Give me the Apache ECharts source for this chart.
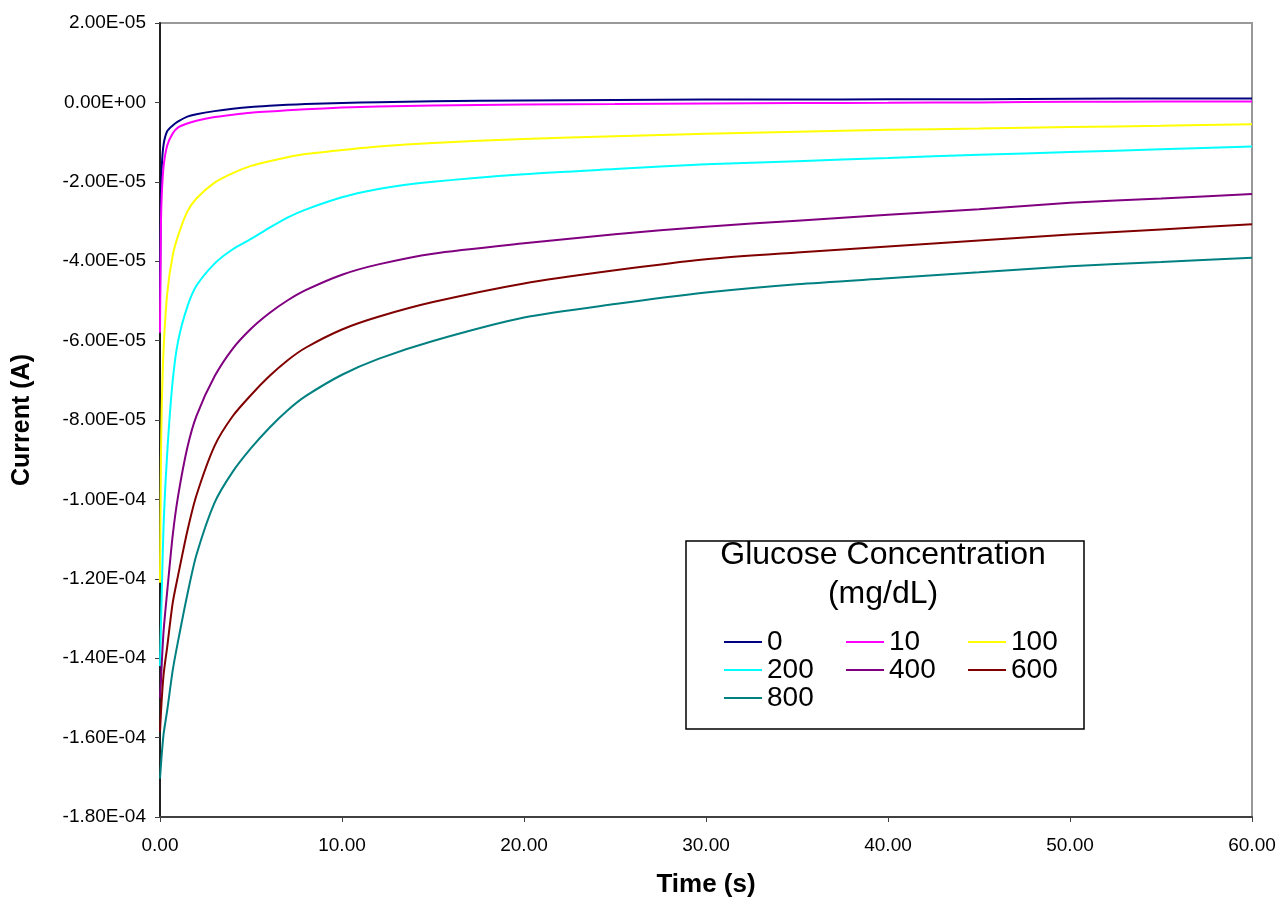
<!DOCTYPE html>
<html>
<head>
<meta charset="utf-8">
<script src="https://cdn.jsdelivr.net/npm/echarts@6/dist/echarts.min.js"></script>
<style>
  html, body { margin: 0; padding: 0; background: #fff; }
  #chart { width: 1279px; height: 903px; }
</style>
</head>
<body>
<div id="chart"></div>
<script>
// time points (s)
let timeList = [0, 0.05, 0.1, 0.2, 0.4, 0.7, 1, 1.5, 2, 3, 4, 5, 6, 7, 8, 10, 12, 15, 20, 25, 30, 35, 40, 45, 50, 55, 60]
// current readings, in microamps
let c0   = [-50, -25, -16, -10.5, -7.2, -5.8, -4.8, -3.6, -3.0, -2.2, -1.6, -1.15, -0.85, -0.6, -0.42, -0.15, 0.05, 0.3, 0.5, 0.6, 0.7, 0.7, 0.8, 0.8, 0.9, 1.0, 1.0]
let c10  = [-58, -31, -23, -16, -10.8, -7.8, -6.3, -5.3, -4.6, -3.7, -3.1, -2.6, -2.3, -2.0, -1.75, -1.3, -1.05, -0.8, -0.5, -0.4, -0.25, -0.15, -0.1, 0.0, 0.15, 0.2, 0.2]
let c100 = [-121, -90, -76, -62, -48, -38.5, -33.5, -27.5, -24.2, -20.2, -17.8, -16.0, -14.8, -13.8, -13.0, -12.0, -11.1, -10.2, -9.2, -8.5, -7.9, -7.4, -6.9, -6.6, -6.2, -5.9, -5.5]
let c200 = [-142, -132, -123, -106, -88, -70, -60, -51.5, -46.2, -40.6, -37.0, -34.4, -31.6, -29.0, -27.0, -23.9, -21.8, -20.0, -18.1, -16.8, -15.6, -14.8, -14.0, -13.2, -12.5, -11.8, -11.1]
let c400 = [-150, -146, -141, -133, -123, -109, -99, -87, -79, -69, -62, -57, -53.1, -49.9, -47.3, -43.4, -40.8, -38.1, -35.5, -33.2, -31.3, -29.8, -28.3, -26.9, -25.3, -24.2, -23.1]
let c600 = [-158.5, -154, -150, -144, -137, -126, -119, -108, -99, -86.5, -79, -73.7, -69, -65, -61.8, -57.2, -54.0, -50.3, -45.6, -42.3, -39.5, -37.8, -36.3, -34.8, -33.3, -32.0, -30.7]
let c800 = [-170.3, -167, -164, -159, -153, -143, -135.5, -124, -114, -100.8, -93, -87.1, -82, -77.6, -74, -68.6, -64.6, -60.1, -54.2, -50.8, -47.9, -45.8, -44.3, -42.8, -41.3, -40.2, -39.1]

let seriesNames = ['0', '10', '100', '200', '400', '600', '800']
let seriesColors = ['#000080', '#ff00ff', '#ffff00', '#00ffff', '#800080', '#800000', '#008080']
let seriesValues = [c0, c10, c100, c200, c400, c600, c800]

const FONT = 'Arial, "Liberation Sans", sans-serif'

function sciLabel (v) {
  let a = v * 1e-6
  if (Math.abs(a) < 1e-15) return '0.00E+00'
  let s = a.toExponential(2).toUpperCase()   // e.g. -1.80E-4
  let parts = s.split('E')
  let exp = parseInt(parts[1], 10)
  let sign = exp < 0 ? '-' : '+'
  let digits = String(Math.abs(exp)).padStart(2, '0')
  return parts[0] + 'E' + sign + digits
}

let chart = echarts.init(document.getElementById('chart'))

let series = seriesNames.map(function (name, i) {
  return {
    name: name,
    type: 'line',
    symbol: 'none',
    smooth: 0.25,
    lineStyle: { color: seriesColors[i], width: 2 },
    itemStyle: { color: seriesColors[i] },
    data: timeList.map(function (t, k) { return [t, seriesValues[i][k]] })
  }
})

function legendCol (left, names) {
  return {
    orient: 'vertical',
    left: left,
    top: 628,
    icon: 'rect',
    itemWidth: 38,
    itemHeight: 2,
    itemGap: 0,
    padding: 0,
    z: 10,
    data: names,
    textStyle: { fontFamily: FONT, fontSize: 28, color: '#000', lineHeight: 26 }
  }
}

let option = {
  animation: false,
  backgroundColor: '#fff',
  grid: {
    left: 160, right: 27, top: 23, bottom: 85,
    show: true, borderColor: '#999', borderWidth: 2, backgroundColor: 'transparent'
  },
  xAxis: {
    type: 'value',
    min: 0, max: 60, interval: 10,
    name: 'Time (s)',
    nameLocation: 'middle',
    nameGap: 55,
    nameTextStyle: { fontFamily: FONT, fontSize: 26, fontWeight: 'bold', color: '#000' },
    axisLine: { show: true, onZero: false, lineStyle: { color: '#404040', width: 2 } },
    axisTick: { show: true, inside: false, length: 5, lineStyle: { color: '#404040' } },
    axisLabel: {
      fontFamily: FONT, fontSize: 19, color: '#000', margin: 19,
      formatter: function (v) { return v.toFixed(2) }
    },
    splitLine: { show: false }
  },
  yAxis: {
    type: 'value',
    min: -180, max: 20, interval: 20,
    name: 'Current (A)',
    nameLocation: 'middle',
    nameGap: 125,
    nameRotate: 90,
    nameTextStyle: { fontFamily: FONT, fontSize: 25, fontWeight: 'bold', color: '#000' },
    axisLine: { show: true, onZero: false, lineStyle: { color: '#202020', width: 2 } },
    axisTick: { show: true, inside: false, length: 5, lineStyle: { color: '#404040' } },
    axisLabel: { fontFamily: FONT, fontSize: 19, color: '#000', margin: 14, formatter: sciLabel },
    splitLine: { show: false }
  },
  legend: [
    legendCol(724, ['0', '200', '800']),
    legendCol(846, ['10', '400']),
    legendCol(968, ['100', '600'])
  ],
  graphic: [
    {
      type: 'rect',
      shape: { x: 686, y: 541, width: 398, height: 188 },
      style: { fill: '#fff', stroke: '#000', lineWidth: 1.5 },
      z: 3
    },
    {
      type: 'text',
      x: 883, y: 555,
      style: { text: 'Glucose Concentration', font: '32px ' + FONT, fill: '#000', textAlign: 'center', textVerticalAlign: 'middle' },
      z: 11
    },
    {
      type: 'text',
      x: 883, y: 594,
      style: { text: '(mg/dL)', font: '32px ' + FONT, fill: '#000', textAlign: 'center', textVerticalAlign: 'middle' },
      z: 11
    }
  ],
  series: series
}

chart.setOption(option)
</script>
</body>
</html>
